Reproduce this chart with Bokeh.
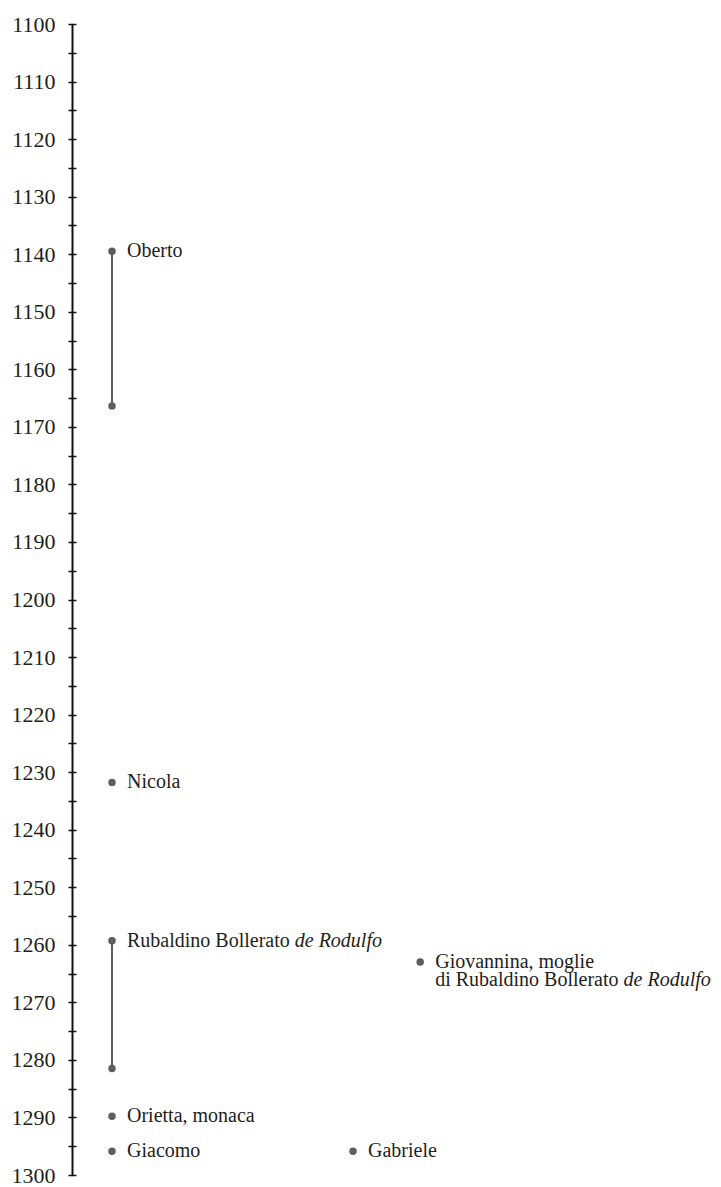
from bokeh.plotting import figure
from bokeh.models import ColumnDataSource, Range1d, FixedTicker
from bokeh.core.properties import value
from bokeh.embed import file_html
from bokeh.resources import INLINE

# ---- data ----
names = ["Oberto", "Nicola", "Rubaldino Bollerato", "Giovannina, moglie\ndi Rubaldino Bollerato",
         "Orietta, monaca", "Giacomo", "Gabriele"]
italic_suffix = ["", "", "de Rodulfo", "de Rodulfo", "", "", ""]
start_year = [1139.4, 1231.7, 1259.2, 1262.9, 1289.7, 1295.8, 1295.8]
end_year = [1166.3, None, 1281.4, None, None, None, None]
lane = [0, 0, 0, 2, 0, 0, 1]
tick_years = list(range(1100, 1301, 10))
tick_labels = [str(t) for t in tick_years]
minor_years = list(range(1105, 1300, 10))

# ---- style / layout ----
FONT = "Liberation Serif"
LABEL_SIZE = 20
TEXT_COLOR = "#1e1e1e"
MARK_COLOR = "#5e5e5e"
LANE_X = [39.5, 280.5, 347.7]
TEXT_DX = 15
BASE_DY = -1
LINE_GAP = 18

# Times / Liberation Serif advance widths (per 1000 em)
ADV = {" ": 250, "R": 667, "u": 500, "b": 500, "a": 444, "l": 278, "d": 500, "i": 278,
       "n": 500, "o": 500, "B": 667, "e": 444, "r": 333, "t": 278, "g": 500, ",": 250,
       "m": 778, "G": 722, "v": 500, "c": 444, "O": 722, "N": 722, "h": 500, "s": 389}


def text_width(s, size):
    return sum(ADV.get(c, 500) for c in s) * size / 1000.0


W, H = 721, 1187
LEFT = 72
p = figure(width=W, height=H, output_backend="svg", toolbar_location=None,
           x_range=Range1d(0, W - LEFT), y_range=Range1d(1300, 1100),
           x_axis_location=None, y_axis_location="left",
           min_border_left=LEFT, min_border_right=0, min_border_top=24, min_border_bottom=12)
p.outline_line_color = None
p.grid.visible = False
p.background_fill_color = "white"
p.border_fill_color = "white"

ax = p.yaxis[0]
ax.ticker = FixedTicker(ticks=tick_years, minor_ticks=minor_years)
ax.major_label_overrides = {t: l for t, l in zip(tick_years, tick_labels)}
ax.axis_line_color = "#111111"
ax.axis_line_width = 2
ax.major_tick_line_color = "#111111"
ax.minor_tick_line_color = "#111111"
ax.major_tick_line_width = 1.6
ax.minor_tick_line_width = 1.6
ax.major_tick_in = 4
ax.major_tick_out = 4
ax.minor_tick_in = 4
ax.minor_tick_out = 4
ax.major_label_standoff = 13
ax.major_label_text_font = FONT
ax.major_label_text_font_size = "22px"
ax.major_label_text_color = TEXT_COLOR

xs = [LANE_X[l] for l in lane]

# segments (spans)
seg_x, seg_y0, seg_y1 = [], [], []
for x, s, e in zip(xs, start_year, end_year):
    if e is not None:
        seg_x.append(x); seg_y0.append(s); seg_y1.append(e)
p.segment(x0=seg_x, y0=seg_y0, x1=seg_x, y1=seg_y1, line_color=MARK_COLOR, line_width=2)

# dots
dot_x, dot_y = [], []
for x, s, e in zip(xs, start_year, end_year):
    dot_x.append(x); dot_y.append(s)
    if e is not None:
        dot_x.append(x); dot_y.append(e)
p.scatter(dot_x, dot_y, size=7.5, fill_color=MARK_COLOR, line_color=None)

# labels
rows = dict(x=[], y=[], text=[], dy=[])
irows = dict(x=[], y=[], text=[], dx=[], dy=[])
for x, s, name, ital in zip(xs, start_year, names, italic_suffix):
    lines = name.split("\n")
    for i, line in enumerate(lines):
        txt = line + (" " if (ital and i == len(lines) - 1) else "")
        rows["x"].append(x); rows["y"].append(s); rows["text"].append(txt)
        rows["dy"].append(BASE_DY + i * LINE_GAP)
        if ital and i == len(lines) - 1:
            irows["x"].append(x); irows["y"].append(s); irows["text"].append(ital)
            irows["dx"].append(TEXT_DX + text_width(txt, LABEL_SIZE))
            irows["dy"].append(BASE_DY + i * LINE_GAP)

p.text(x="x", y="y", text="text", source=ColumnDataSource(rows),
       x_offset=TEXT_DX, y_offset="dy", text_align="left", text_baseline="middle",
       text_font=value(FONT), text_font_size=f"{LABEL_SIZE}px", text_color=TEXT_COLOR)
p.text(x="x", y="y", text="text", source=ColumnDataSource(irows),
       x_offset="dx", y_offset="dy", text_align="left", text_baseline="middle",
       text_font=value(FONT), text_font_style="italic",
       text_font_size=f"{LABEL_SIZE}px", text_color=TEXT_COLOR)

open("out.html", "w").write(file_html(p, INLINE))
